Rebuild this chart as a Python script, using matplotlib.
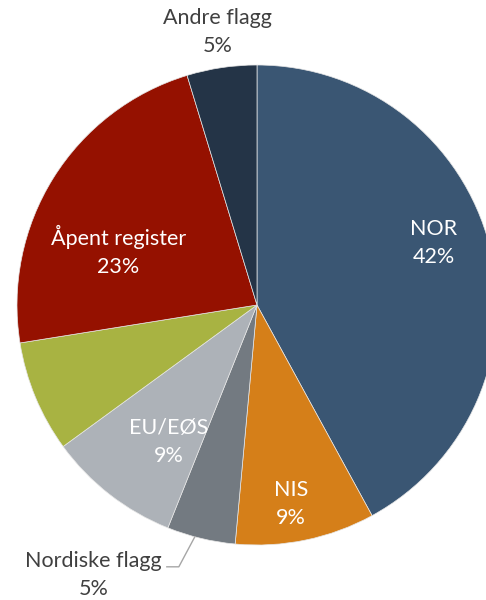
import numpy as np
import matplotlib
matplotlib.use("Agg")
import matplotlib.pyplot as plt

# Share of fleet by flag (percent), clockwise from 12 o'clock
labels = ["NOR", "NIS", "Nordiske flagg", "EU/EØS", "Andre EU", "Åpent register", "Andre flagg"]
values = [42.0, 9.4, 4.6, 8.9, 7.5, 22.8, 4.7]
show_label = [True, True, True, True, False, True, True]
colors = ["#3a5673", "#d57f19", "#737a81", "#adb2b8", "#a8b342", "#951100", "#243447"]

plt.rcParams['font.family'] = ['Lato', 'DejaVu Sans']

fig = plt.figure(figsize=(4.86, 6.0), dpi=100)
ax = fig.add_axes([0, 0, 1, 1])
R = 240.0
cx, cy = 257.0, 305.0

wedges, _ = ax.pie(values, colors=colors, startangle=90, counterclock=False,
                   wedgeprops=dict(edgecolor='#e6e6e6', linewidth=0.5))

ax.set_xlim(-cx / R, (486 - cx) / R)
ax.set_ylim((cy - 600) / R, cy / R)
ax.set_aspect('equal', adjustable='datalim')
ax.axis('off')

# label placement: (angle offset from wedge middle in degrees, radius)
place = {
    "NOR": (5.0, 0.78),
    "NIS": (-2.0, 0.84),
    "EU/EØS": (5.0, 0.68),
    "Åpent register": (10.5, 0.62),
    "Andre flagg": (-0.3, 1.15),
}
fs = 15.5

for w, lab, v, show in zip(wedges, labels, values, show_label):
    if not show:
        continue
    mid = np.deg2rad((w.theta1 + w.theta2) / 2)
    txt = f"{lab}\n{round(v):.0f}%"
    if lab == "Nordiske flagg":
        # outside label with leader line
        p0 = (np.cos(mid - np.deg2rad(1.5)), np.sin(mid - np.deg2rad(1.5)))
        p1 = (p0[0] - 16 / R, p0[1] - 30 / R)
        p2 = (p1[0] - 12 / R, p1[1])
        ax.plot([p0[0], p1[0], p2[0]], [p0[1], p1[1], p2[1]], color='#a6a6a6', lw=1.0)
        ax.text(p2[0] - 5 / R, p2[1] - 8 / R, txt, ha='right', va='center',
                multialignment='center', fontsize=fs, color='#404040', linespacing=1.5)
        continue
    da, r = place[lab]
    a = mid + np.deg2rad(da)
    col = '#404040' if r > 1 else 'white'
    ax.text(r * np.cos(a), r * np.sin(a), txt, ha='center', va='center',
            fontsize=fs, color=col, linespacing=1.5)

fig.savefig("out.png", dpi=100)
